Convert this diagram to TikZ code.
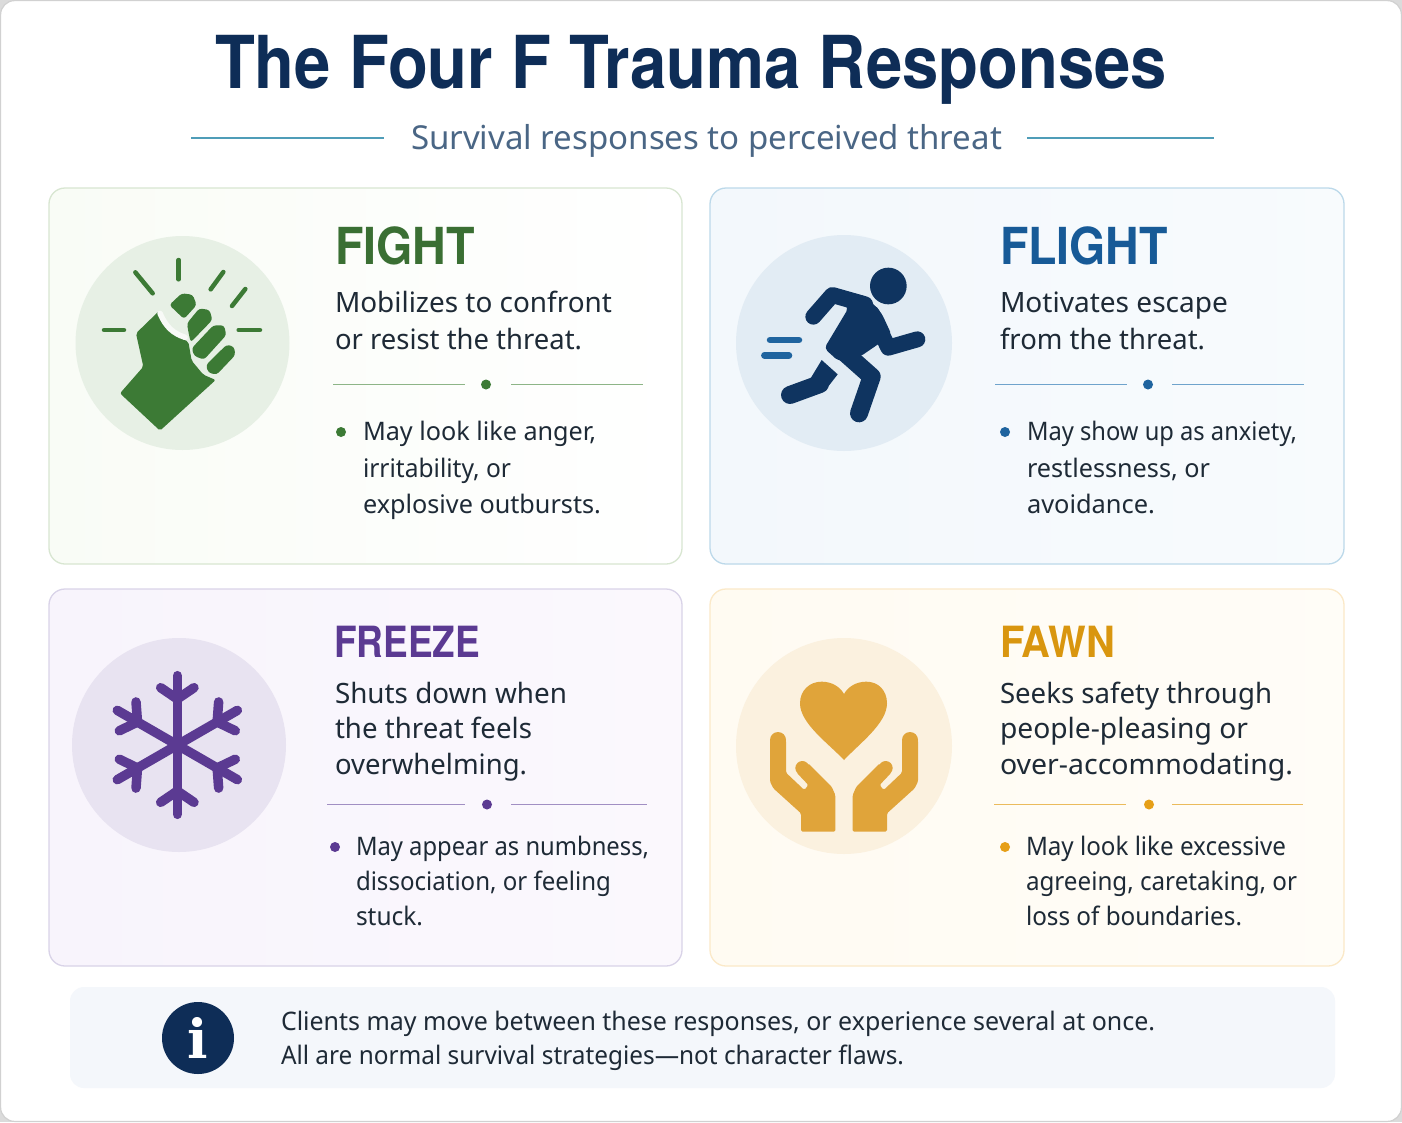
\documentclass[tikz,border=0pt]{standalone}
\usepackage{fontspec}
\usepackage{graphicx}
\setmainfont{Noto Sans}
\newfontfamily\headfont{TeX Gyre Heros}
\newfontfamily\infofont{DejaVu Serif}
\newcommand{\fw}[2]{\resizebox{#1pt}{\height}{#2}}
\definecolor{navy}{HTML}{0E2D57}
\definecolor{subt}{HTML}{4A6685}
\definecolor{rulec}{HTML}{4F9DB8}
\definecolor{gr}{HTML}{3C7A35}\definecolor{grT}{HTML}{3A6F33}\definecolor{grB}{HTML}{F9FCF6}\definecolor{grE}{HTML}{D8E6D1}\definecolor{grC}{HTML}{E7F0E5}\definecolor{grL}{HTML}{8DB587}
\definecolor{bl}{HTML}{0F3460}\definecolor{blT}{HTML}{175A97}\definecolor{blB}{HTML}{F3F8FC}\definecolor{blE}{HTML}{BCD9EA}\definecolor{blC}{HTML}{E2ECF4}\definecolor{blL}{HTML}{6FA3CC}\definecolor{blD}{HTML}{1F649F}
\definecolor{pu}{HTML}{5B3A92}\definecolor{puB}{HTML}{F8F4FC}\definecolor{puE}{HTML}{D9D3E8}\definecolor{puC}{HTML}{E8E3F1}\definecolor{puL}{HTML}{A18FC3}
\definecolor{ye}{HTML}{E0A43A}\definecolor{yeT}{HTML}{D9960F}\definecolor{yeB}{HTML}{FFFBF2}\definecolor{yeE}{HTML}{FBE9C8}\definecolor{yeC}{HTML}{FBF1DF}\definecolor{yeL}{HTML}{EBBB5C}\definecolor{yeD}{HTML}{E69F17}
\definecolor{ink}{HTML}{1E2A36}
\definecolor{infoB}{HTML}{F4F7FB}
\tikzset{
 txt/.style={anchor=base west,inner sep=0pt,outer sep=0pt,text=ink},
 hdg/.style={txt,font=\fontsize{51}{51}\selectfont\headfont\bfseries},
 hdgs/.style={txt,font=\fontsize{43}{43}\selectfont\headfont\bfseries},
 bodytxt/.style={txt,font=\fontsize{28}{28}\selectfont},
 bul/.style={txt,font=\fontsize{25.5}{25.5}\selectfont},
 notetxt/.style={txt,font=\fontsize{25.5}{25.5}\selectfont},
 card/.style={rounded corners=16pt,line width=1.3pt},
 rulerline/.style={line width=1.8pt},
 icon/.style={shift={(#1)},scale=0.33333},
 stroke/.style={line cap=round,line join=round},
}
\begin{document}
\begin{tikzpicture}[x=1pt,y=-1pt]
\useasboundingbox (0,0) rectangle (1402,1122);
\fill[black!14] (0,0) rectangle (1402,1122);
\draw[fill=white,draw=black!18,line width=1.2pt,rounded corners=14pt] (.6,.6) rectangle (1401.4,1121.4);
% header
\node[txt,text=navy,font=\fontsize{73}{73}\selectfont\headfont\bfseries] (title) at (215,88) {\fw{952}{The Four F Trauma Responses}};
\node[txt,text=subt,font=\fontsize{33}{33}\selectfont] (sub) at (411,149) {\fw{591}{Survival responses to perceived threat}};
\draw[rulec,line width=1.5pt] (191,138) -- (384,138);
\draw[rulec,line width=1.5pt] (1027,138) -- (1214,138);
% cards
\draw[card,left color=grB,right color=white,draw=grE] (49,188) rectangle (682,564);
\draw[card,left color=blB,right color=blB!60!white,draw=blE] (710,188) rectangle (1344,564);
\draw[card,left color=puB,right color=puB!60!white,draw=puE] (49,589) rectangle (682,966);
\draw[card,left color=yeB,right color=yeB!60!white,draw=yeE] (710,589) rectangle (1344,966);
% circles
\fill[grC] (182.5,343) circle (107);
\fill[blC] (844,343) circle (108);
\fill[puC] (179,745) circle (107);
\fill[yeC] (844,746) circle (108);
% FIGHT icon
\begin{scope}[icon={60,220}]
 \fill[gr,rounded corners=2pt] (298,272) -- (228,340) -- (250,440) -- (180,520) -- (300,632) -- (467,480) -- (430,464) -- (395,422) -- (385,365) -- (340,345) -- cycle;
 \draw[white!70!grC,line width=5.5pt,stroke] (300,280) .. controls (318,322) and (340,340) .. (375,352);
 \fill[gr,rounded corners=3pt] (328,255) -- (365,220) -- (398,224) -- (410,255) -- (372,297) -- cycle;
 \fill[gr,rounded corners=3pt] (381,310) -- (418,265) -- (449,270) -- (457,300) -- (392,367) -- (386,340) -- cycle;
 \fill[gr,rounded corners=3pt] (395,385) -- (460,316) -- (492,316) -- (499,345) -- (432,419) -- (403,408) -- cycle;
 \fill[gr,rounded corners=3pt] (438,435) -- (500,374) -- (522,380) -- (526,405) -- (470,464) -- (445,458) -- cycle;
 \foreach \a/\b/\c/\d in {132/330/192/330, 226/157/278/220, 356/120/356/178, 490/156/452/208, 556/207/516/258, 536/330/600/330}
  \draw[gr,line width=4.5pt,stroke] (\a,\b) -- (\c,\d);
\end{scope}
% FLIGHT icon
\begin{scope}[icon={725,225}]
 \fill[bl] (490,183) circle (55);
 \draw[bl,line width=16pt,stroke] (265,275) -- (322,210) -- (420,238);
 \draw[bl,line width=16pt,stroke] (440,265) -- (490,368) -- (577,343);
 \fill[bl,rounded corners=4pt] (320,187) -- (425,215) -- (470,265) -- (500,330) -- (405,395) -- (340,408) -- (298,370) -- (370,250) -- cycle;
 \draw[bl,line width=18pt,stroke] (350,375) -- (440,455) -- (402,565);
 \draw[bl,line width=18pt,stroke] (195,510) -- (285,477);
 \fill[bl] (290,405) -- (338,448) -- (300,497) -- (250,510) -- (258,458) -- cycle;
 \draw[blD,line width=6.5pt,stroke] (135,345) -- (222,345);
 \draw[blD,line width=6.5pt,stroke] (118,391) -- (192,391);
\end{scope}
% FREEZE icon
\begin{scope}[icon={60,630}]
 \foreach \r in {0,60,...,300}{
  \begin{scope}[shift={(352,345)},rotate=\r]
   \draw[pu,line width=9.5pt,stroke] (0,0) -- (0,-208);
   \draw[pu,line width=9.5pt,stroke] (-50,-172) -- (0,-138) -- (50,-172);
  \end{scope}}
\end{scope}
% FAWN icon
\begin{scope}[icon={725,630}]
 \fill[ye] (357,390) .. controls (310,340) and (225,280) .. (225,220) .. controls (225,180) and (255,155) .. (290,155) .. controls (320,155) and (345,170) .. (357,192) .. controls (369,170) and (394,155) .. (424,155) .. controls (459,155) and (486,180) .. (486,220) .. controls (486,280) and (404,340) .. (357,390) -- cycle;
 \foreach \m in {1,-1}{
  \begin{scope}[shift={(357,0)},xscale=\m]
   \fill[ye,rounded corners=1.5pt] (-222,330) -- (-222,455) -- (-212,475) -- (-129,550) -- (-129,605) -- (-26,605) -- (-26,495) -- (-37,470) -- (-107,400) -- (-142,428) -- (-107,465) -- (-119,480) -- (-174,428) -- (-174,330) -- cycle;
   \fill[ye] (-198,330) circle (24);
   \fill[ye] (-125,414) circle (21);
  \end{scope}}
\end{scope}
% FIGHT text
\node[hdg,text=grT] (fightH) at (335,264) {\fw{140}{FIGHT}};
\node[bodytxt] (fightA) at (335,312) {\fw{277}{Mobilizes to confront}};
\node[bodytxt] (fightB) at (335,349) {\fw{247}{or resist the threat.}};
\draw[rulerline,grL] (333,384.5) -- (465,384.5);
\draw[rulerline,grL] (511,384.5) -- (643,384.5);
\fill[gr] (486,384.5) circle (5);
\fill[gr] (341,432) circle (5);
\node[bul] (fightC) at (363,440) {\fw{233}{May look like anger,}};
\node[bul] (fightD) at (363,477) {\fw{148}{irritability, or}};
\node[bul] (fightE) at (363,513) {\fw{238}{explosive outbursts.}};
% FLIGHT text
\node[hdg,text=blT] (flightH) at (1000,264) {\fw{168}{FLIGHT}};
\node[bodytxt] (flightA) at (1000,312) {\fw{228}{Motivates escape}};
\node[bodytxt] (flightB) at (1000,349) {\fw{205}{from the threat.}};
\draw[rulerline,blL] (995,384.5) -- (1127,384.5);
\draw[rulerline,blL] (1172,384.5) -- (1304,384.5);
\fill[blD] (1148,384.5) circle (5);
\fill[blD] (1005,432) circle (5);
\node[bul] (flightC) at (1027,440) {\fw{270}{May show up as anxiety,}};
\node[bul] (flightD) at (1027,477) {\fw{183}{restlessness, or}};
\node[bul] (flightE) at (1027,513) {\fw{128}{avoidance.}};
% FREEZE text
\node[hdgs,text=pu] (freezeH) at (334,657) {\fw{146}{FREEZE}};
\node[bodytxt] (freezeA) at (335,703) {\fw{232}{Shuts down when}};
\node[bodytxt] (freezeB) at (335,738) {\fw{197}{the threat feels}};
\node[bodytxt] (freezeC) at (335,774) {\fw{192}{overwhelming.}};
\draw[rulerline,puL] (327,804.5) -- (465,804.5);
\draw[rulerline,puL] (511,804.5) -- (647,804.5);
\fill[pu] (487,804.5) circle (5);
\fill[pu] (335,847) circle (5);
\node[bul] (freezeD) at (356,855) {\fw{293}{May appear as numbness,}};
\node[bul] (freezeE) at (356,890) {\fw{255}{dissociation, or feeling}};
\node[bul] (freezeF) at (356,925) {\fw{67}{stuck.}};
% FAWN text
\node[hdgs,text=yeT] (fawnH) at (1000,657) {\fw{115}{FAWN}};
\node[bodytxt] (fawnA) at (1000,703) {\fw{272}{Seeks safety through}};
\node[bodytxt] (fawnB) at (1000,738) {\fw{248}{people-pleasing or}};
\node[bodytxt] (fawnC) at (1000,774) {\fw{293}{over-accommodating.}};
\draw[rulerline,yeL] (994,804.5) -- (1126,804.5);
\draw[rulerline,yeL] (1172,804.5) -- (1303,804.5);
\fill[yeD] (1149,804.5) circle (5);
\fill[yeD] (1005,847) circle (5);
\node[bul] (fawnD) at (1026,855) {\fw{260}{May look like excessive}};
\node[bul] (fawnE) at (1026,890) {\fw{271}{agreeing, caretaking, or}};
\node[bul] (fawnF) at (1026,925) {\fw{216}{loss of boundaries.}};
% note
\fill[infoB,rounded corners=14pt] (70,987) rectangle (1335,1088);
\fill[navy] (198,1038) circle (36);
\node[anchor=base,inner sep=0pt,text=white,font=\fontsize{54}{54}\selectfont\infofont\bfseries] (infoI) at (198,1058) {i};
\node[notetxt] (noteA) at (281,1030) {\fw{874}{Clients may move between these responses, or experience several at once.}};
\node[notetxt] (noteB) at (281,1064) {\fw{623}{All are normal survival strategies—not character flaws.}};
\end{tikzpicture}
\end{document}
